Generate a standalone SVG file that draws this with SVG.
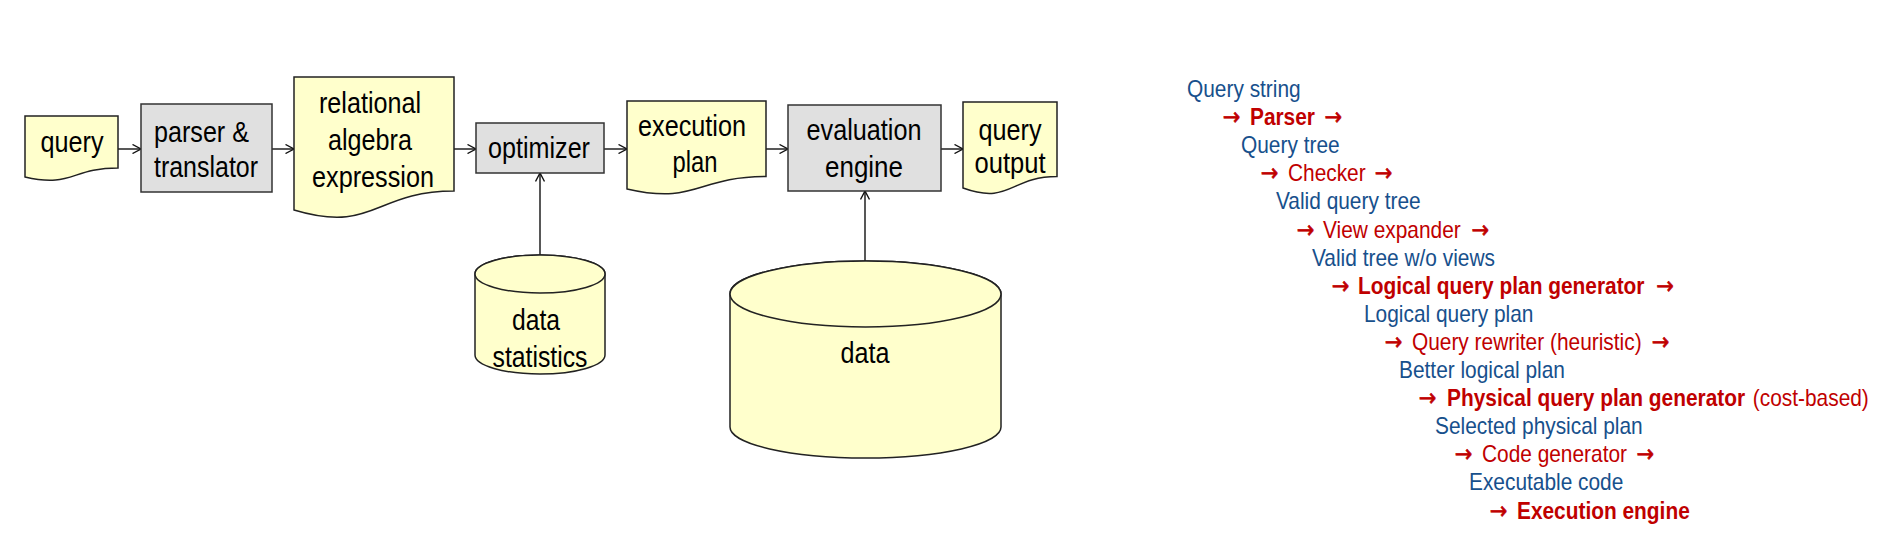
<svg xmlns="http://www.w3.org/2000/svg" width="1896" height="538" viewBox="0 0 1896 538">
<style>
.doc{fill:#FFFFCC;stroke:#222;stroke-width:1.5}
.box{fill:#E0E0E0;stroke:#333;stroke-width:1.5}
.cyl{fill:#FFFFCC;stroke:#222;stroke-width:1.5}
.lbl{font-family:"Liberation Sans",Arial,sans-serif;font-size:30px;fill:#000}
.c{text-anchor:middle}
.conn{fill:none;stroke:#111;stroke-width:1.4}
.li{font-family:"Liberation Sans",Arial,sans-serif;font-size:24px}
.blue{fill:#17508C}
.red{fill:#C00000}
.b{font-weight:bold}
.ar{font-family:"DejaVu Sans",sans-serif;font-size:24px;font-weight:normal;stroke:#C00000;stroke-width:0.7}
</style>
<defs>
<marker id="open" viewBox="0 0 10 10" refX="9.5" refY="5" markerWidth="10" markerHeight="10" markerUnits="userSpaceOnUse" orient="auto">
<path d="M1,0.5 L9.5,5 L1,9.5" fill="none" stroke="#111" stroke-width="1.4"/>
</marker>
</defs>
<rect width="1896" height="538" fill="#fff"/>

<g id="connectors">
<line class="conn" x1="118" y1="149" x2="141" y2="149" marker-end="url(#open)"/>
<line class="conn" x1="272" y1="149" x2="294" y2="149" marker-end="url(#open)"/>
<line class="conn" x1="454" y1="149" x2="476" y2="149" marker-end="url(#open)"/>
<line class="conn" x1="604" y1="149" x2="627" y2="149" marker-end="url(#open)"/>
<line class="conn" x1="766" y1="149" x2="788" y2="149" marker-end="url(#open)"/>
<line class="conn" x1="941" y1="149" x2="963" y2="149" marker-end="url(#open)"/>
<line class="conn" x1="540" y1="255" x2="540" y2="173" marker-end="url(#open)"/>
<line class="conn" x1="865" y1="261" x2="865" y2="191" marker-end="url(#open)"/>
</g>

<g id="query">
<path class="doc" d="M25,116 H118 V168 C71.5,168 71.5,188 25,177 Z"/>
<text class="lbl c" x="72" y="152" textLength="63" lengthAdjust="spacingAndGlyphs">query</text>
</g>

<g id="parser">
<rect class="box" x="141" y="104" width="131" height="88"/>
<text class="lbl" x="154" y="142" textLength="95" lengthAdjust="spacingAndGlyphs">parser &amp;</text>
<text class="lbl" x="154" y="177" textLength="104" lengthAdjust="spacingAndGlyphs">translator</text>
</g>

<g id="relational">
<path class="doc" d="M294,77 H454 V191 C374,191 374,234 294,210 Z"/>
<text class="lbl c" x="370" y="113" textLength="102" lengthAdjust="spacingAndGlyphs">relational</text>
<text class="lbl c" x="370" y="150" textLength="84" lengthAdjust="spacingAndGlyphs">algebra</text>
<text class="lbl c" x="373" y="187" textLength="122" lengthAdjust="spacingAndGlyphs">expression</text>
</g>

<g id="optimizer">
<rect class="box" x="476" y="123" width="128" height="50"/>
<text class="lbl c" x="539" y="158" textLength="102" lengthAdjust="spacingAndGlyphs">optimizer</text>
</g>

<g id="execplan">
<path class="doc" d="M627,101 H766 V176.5 C696.5,176.5 696.5,205 627,189 Z"/>
<text class="lbl c" x="692" y="136" textLength="108" lengthAdjust="spacingAndGlyphs">execution</text>
<text class="lbl c" x="695" y="172" textLength="45" lengthAdjust="spacingAndGlyphs">plan</text>
</g>

<g id="evalengine">
<rect class="box" x="788" y="105" width="153" height="86"/>
<text class="lbl c" x="864" y="140" textLength="115" lengthAdjust="spacingAndGlyphs">evaluation</text>
<text class="lbl c" x="864" y="177" textLength="78" lengthAdjust="spacingAndGlyphs">engine</text>
</g>

<g id="queryoutput">
<path class="doc" d="M963,102 H1057 V176.5 C1010,176.5 1010,205 963,188 Z"/>
<text class="lbl c" x="1010" y="140" textLength="63" lengthAdjust="spacingAndGlyphs">query</text>
<text class="lbl c" x="1010" y="173" textLength="71" lengthAdjust="spacingAndGlyphs">output</text>
</g>

<g id="datastats">
<path class="cyl" d="M475,274 V355 A65,19 0 0 0 605,355 V274 A65,19 0 0 0 475,274 Z"/>
<ellipse class="cyl" cx="540" cy="274" rx="65" ry="19"/>
<text class="lbl c" x="536" y="330" textLength="48" lengthAdjust="spacingAndGlyphs">data</text>
<text class="lbl c" x="540" y="367" textLength="95" lengthAdjust="spacingAndGlyphs">statistics</text>
</g>

<g id="data">
<path class="cyl" d="M730,294 V427 A135.5,31 0 0 0 1001,427 V294 A135.5,33 0 0 0 730,294 Z"/>
<ellipse class="cyl" cx="865.5" cy="294" rx="135.5" ry="33"/>
<text class="lbl c" x="865" y="363" textLength="49" lengthAdjust="spacingAndGlyphs">data</text>
</g>

<g id="steps" class="li">
<text class="blue" transform="translate(1187,97) scale(0.87,1)">Query string</text>
<text class="red" transform="translate(1221,125) scale(0.87,1)"><tspan class="ar" x="2">→</tspan><tspan class="b" x="33.3">Parser</tspan><tspan class="ar" x="119">→</tspan></text>
<text class="blue" transform="translate(1241,153) scale(0.87,1)">Query tree</text>
<text class="red" transform="translate(1259,181) scale(0.87,1)"><tspan class="ar" x="2">→</tspan><tspan x="33.3">Checker</tspan><tspan class="ar" x="133">→</tspan></text>
<text class="blue" transform="translate(1276,209) scale(0.87,1)">Valid query tree</text>
<text class="red" transform="translate(1295,238) scale(0.87,1)"><tspan class="ar" x="2">→</tspan><tspan x="32.2">View expander</tspan><tspan class="ar" x="203">→</tspan></text>
<text class="blue" transform="translate(1312,266) scale(0.87,1)">Valid tree w/o views</text>
<text class="red" transform="translate(1330,294) scale(0.87,1)"><tspan class="ar" x="2">→</tspan><tspan class="b" x="32.2">Logical query plan generator</tspan><tspan class="ar" x="375">→</tspan></text>
<text class="blue" transform="translate(1364,322) scale(0.87,1)">Logical query plan</text>
<text class="red" transform="translate(1383,350) scale(0.87,1)"><tspan class="ar" x="2">→</tspan><tspan x="33.3">Query rewriter (heuristic)</tspan><tspan class="ar" x="309">→</tspan></text>
<text class="blue" transform="translate(1399,378) scale(0.87,1)">Better logical plan</text>
<text class="red" transform="translate(1417,406) scale(0.87,1)"><tspan class="ar" x="2">→</tspan><tspan class="b" x="34.5">Physical query plan generator</tspan><tspan x="386">(cost-based)</tspan></text>
<text class="blue" transform="translate(1435,434) scale(0.87,1)">Selected physical plan</text>
<text class="red" transform="translate(1453,462) scale(0.87,1)"><tspan class="ar" x="2">→</tspan><tspan x="33.3">Code generator</tspan><tspan class="ar" x="211">→</tspan></text>
<text class="blue" transform="translate(1469,490) scale(0.87,1)">Executable code</text>
<text class="red" transform="translate(1488,519) scale(0.87,1)"><tspan class="ar" x="2">→</tspan><tspan class="b" x="33.3">Execution engine</tspan></text>
</g>
</svg>
